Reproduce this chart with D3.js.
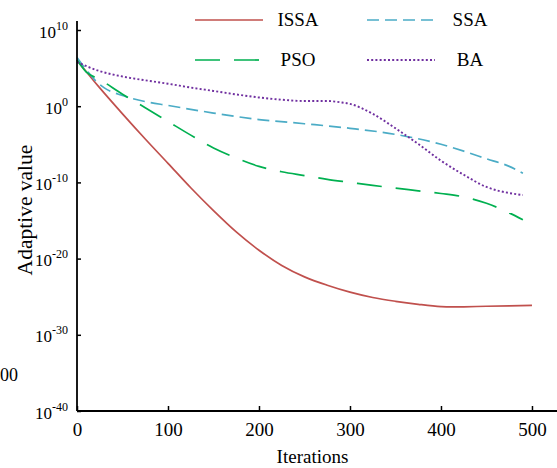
<!DOCTYPE html>
<html><head><meta charset="utf-8">
<script src="https://cdn.jsdelivr.net/npm/d3@7"></script>
<style>body{margin:0;background:#fff}svg{display:block}text{font-family:"Liberation Serif","Times New Roman",serif;fill:#000}</style>
</head><body><svg id="c" width="557" height="468"></svg>
<script>
const xTicks = [0, 100, 200, 300, 400, 500];
const yTickExps = [-40, -30, -20, -10, 0, 10];
const issaIter = [0,25,50,75,100,125,150,175,200,225,250,275,300,325,350,375,400,410,425,450,475,500];
const issaVal  = [1.12e6,251,0.1,5.0e-5,3.2e-8,2.0e-11,2.0e-14,3.2e-17,1.26e-19,1.26e-21,4.0e-23,3.2e-24,4.0e-25,7.9e-26,2.5e-26,1e-26,5.0e-27,4.5e-27,4.7e-27,5.6e-27,6.3e-27,7.1e-27];
const ssaIter = [0,10,20,30,50,75,100,150,200,250,300,350,400,425,450,475,490];
const ssaVal  = [2.5e6,6.3e4,2.5e3,251,25,4,1.26,0.126,0.0178,5e-3,1.26e-3,2e-4,1e-5,1.26e-6,1.26e-7,1.26e-8,1.6e-9];
const psoIter = [0,10,25,50,75,100,125,150,175,200,225,250,275,300,325,350,375,400,425,450,475,490];
const psoVal  = [1.12e6,3.2e4,3.2e3,38,0.63,0.01,1.6e-4,3.2e-6,1.6e-7,1.26e-8,2.5e-9,7.9e-10,2.5e-10,1e-10,4e-11,1.8e-11,7.9e-12,3.5e-12,1.26e-12,1.8e-13,1e-14,1.26e-15];
const baIter = [0,25,50,75,100,125,150,175,200,225,250,275,290,300,325,350,375,400,425,450,475,490];
const baVal  = [6.3e5,4e4,7.9e3,2.5e3,890,280,100,35,14,7.1,4.8,4.8,3.2,2.0,0.1,1.26e-3,1.1e-5,7.1e-8,1e-9,2.5e-11,4e-12,2.2e-12];
const seriesNames = ["ISSA","SSA","PSO","BA"];

const svg = d3.select("#c");
const x = d3.scaleLinear().domain([0, 527.5]).range([77, 557]);
const y = d3.scaleLog().domain([1e-40, 1e10]).range([411, 30]);

const series = [
  {name:seriesNames[0], it:issaIter, v:issaVal, color:"#c0504d", dash:null, w:1.7},
  {name:seriesNames[1], it:ssaIter, v:ssaVal, color:"#4bacc6", dash:"12,6", w:1.7},
  {name:seriesNames[2], it:psoIter, v:psoVal, color:"#00b050", dash:"25,14", w:1.7},
  {name:seriesNames[3], it:baIter, v:baVal, color:"#7030a0", dash:"2,2.2", w:1.9}
];
const line = d3.line().x(d=>x(d[0])).y(d=>y(d[1])).curve(d3.curveMonotoneX);
series.forEach(s=>{
  svg.append("path").datum(s.it.map((t,i)=>[t,s.v[i]]))
    .attr("d", line).attr("fill","none").attr("stroke", s.color)
    .attr("stroke-width", s.w).attr("stroke-dasharray", s.dash);
});

// axes
const xAxis = svg.append("g").attr("transform","translate(0,411)")
  .call(d3.axisBottom(x).tickValues(xTicks).tickSize(-5).tickPadding(12).tickFormat(d3.format("d")));
xAxis.select(".domain").attr("stroke-width",1.8).attr("d","M77,0H557");
xAxis.selectAll(".tick line").attr("stroke-width",1.5);
xAxis.selectAll("text").attr("font-size",19).attr("font-family","Liberation Serif").attr("dy","0.71em");

const yAxis = svg.append("g").attr("transform","translate(77,0)")
  .call(d3.axisLeft(y).tickValues(yTickExps.map(e=>Math.pow(10,e))).tickSize(-4).tickFormat(""));
yAxis.select(".domain").attr("stroke-width",1.8).attr("d","M0,21V411");
yAxis.selectAll(".tick line").attr("stroke-width",1.5);
yAxis.selectAll(".tick").each(function(d,i){
  const t = d3.select(this).append("text").attr("x",-9).attr("y",7)
    .attr("text-anchor","end").attr("font-family","Liberation Serif");
  t.append("tspan").attr("font-size",17).text("10");
  t.append("tspan").attr("font-size",12).attr("dy",-8).text(String(yTickExps[i]));
});

// axis titles
svg.append("text").attr("x", x(250)+8).attr("y", 463).attr("text-anchor","middle")
  .attr("font-size",19).text("Iterations");
svg.append("text").attr("transform","translate(32,210) rotate(-90)").attr("text-anchor","middle")
  .attr("font-size",21.5).text("Adaptive value");
svg.append("text").attr("x",0).attr("y",381).attr("text-anchor","start").attr("font-size",18).text("00");

// legend
const leg = [
  {s:series[0], x1:195, x2:263, ly:20, tx:298, ty:26},
  {s:series[1], x1:367, x2:435, ly:20, tx:470, ty:26},
  {s:series[2], x1:195, x2:262, ly:60, tx:298, ty:66},
  {s:series[3], x1:367, x2:435, ly:60, tx:470, ty:66}
];
leg.forEach(l=>{
  svg.append("line").attr("x1",l.x1).attr("x2",l.x2).attr("y1",l.ly).attr("y2",l.ly)
    .attr("stroke",l.s.color).attr("stroke-width",l.s.w).attr("stroke-dasharray",l.s.dash);
  svg.append("text").attr("x",l.tx).attr("y",l.ty).attr("text-anchor","middle")
    .attr("font-size",19).text(l.s.name);
});
</script></body></html>
